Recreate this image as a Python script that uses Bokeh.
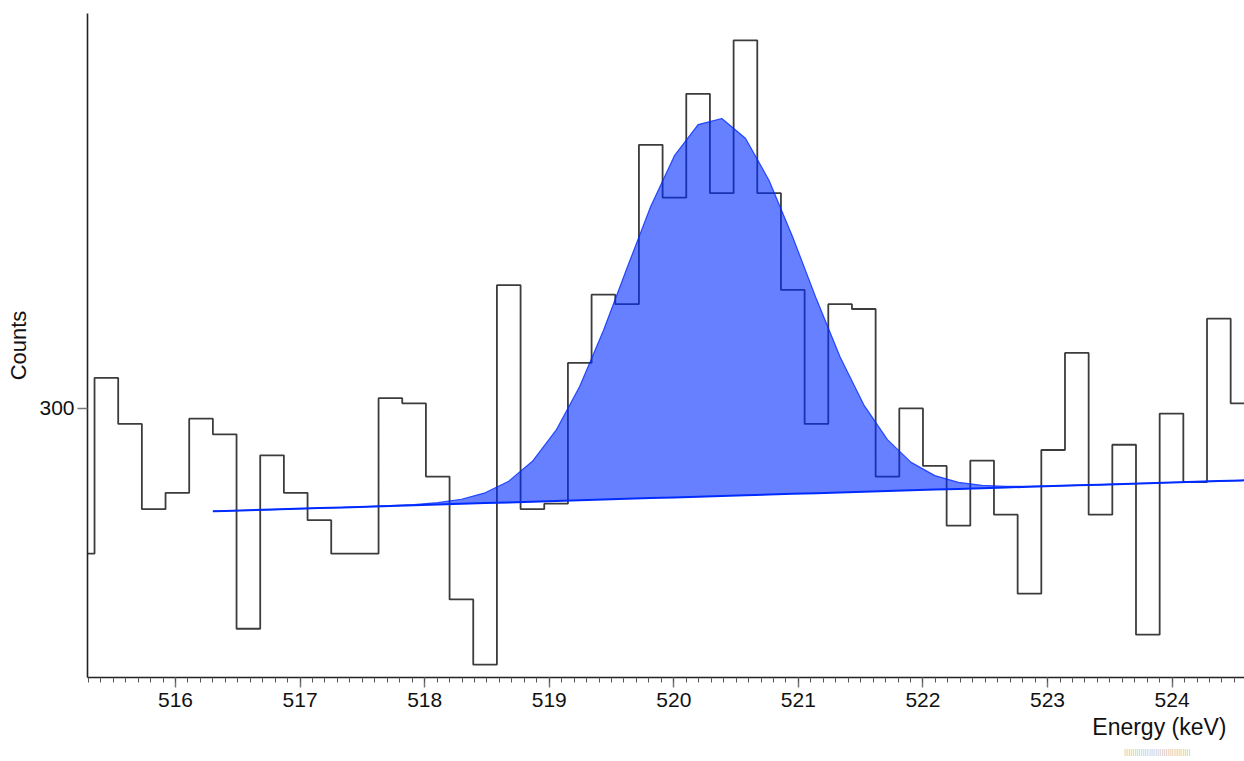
import numpy as np
from bokeh.plotting import figure
from bokeh.models import (Range1d, FixedTicker, SingleIntervalTicker, Title,
                          PrintfTickFormatter)
from bokeh.embed import file_html
from bokeh.resources import INLINE

# ---- spectrum data (bin lower edges in keV, counts per bin) ----
bin_lower_kev = [515.16, 515.35, 515.54, 515.73, 515.92, 516.11, 516.30, 516.49, 516.68, 516.87,
                 517.06, 517.25, 517.44, 517.63, 517.82, 518.01, 518.20, 518.39, 518.58, 518.77,
                 518.96, 519.15, 519.34, 519.53, 519.72, 519.91, 520.10, 520.29, 520.48, 520.67,
                 520.86, 521.05, 521.24, 521.43, 521.62, 521.81, 522.00, 522.19, 522.38, 522.57,
                 522.76, 522.95, 523.14, 523.33, 523.52, 523.71, 523.90, 524.09, 524.28, 524.47]
bin_counts = [273, 306, 297, 281, 284, 298, 295, 260, 291, 284,
              279, 273, 273, 302, 301, 287, 265, 254, 325, 281,
              282, 309, 323, 321, 356, 344, 368, 345, 381, 345,
              324, 297, 321, 320, 287, 300, 289, 278, 290, 280,
              266, 292, 311, 280, 293, 259, 299, 286, 318, 301]
bin_width_kev = 0.19

# ---- fitted peak ----
roi_lower_kev = 516.30
roi_upper_kev = 524.66
peak_mean_kev = 520.33
peak_fwhm_kev = 1.59
peak_amplitude = 79.0
continuum_at_roi_lower = 280.6
continuum_slope_per_kev = 0.689

y_major_ticks = [300]

FONT = "Liberation Sans"

p = figure(width=1244, height=761, output_backend="svg", toolbar_location=None,
           y_axis_type="log",
           x_range=Range1d(515.2936, 524.581), y_range=Range1d(251.9, 387.7),
           min_border_left=87, min_border_right=0, min_border_top=13, min_border_bottom=84)
p.outline_line_color = None
p.xgrid.visible = False
p.ygrid.visible = False
p.background_fill_color = "white"
p.border_fill_color = "white"

# histogram as step line
xs = list(bin_lower_kev) + [bin_lower_kev[-1] + bin_width_kev]
ys = list(bin_counts) + [bin_counts[-1]]
p.step(xs, ys, mode="after", line_color="#3c3c3c", line_width=1.8)

# peak model sampled at ROI bin centres
centers = [e + bin_width_kev / 2 for e in bin_lower_kev if e >= roi_lower_kev - 1e-6]
fx = np.array([roi_lower_kev] + centers + [roi_upper_kev])
sigma = peak_fwhm_kev / 2.3548
cont = continuum_at_roi_lower + continuum_slope_per_kev * (fx - roi_lower_kev)
gauss = peak_amplitude * np.exp(-0.5 * ((fx - peak_mean_kev) / sigma) ** 2)
blue = "#002bff"
p.varea(x=fx, y1=cont, y2=cont + gauss, fill_color=blue, fill_alpha=0.6)
p.line(fx, cont + gauss, line_color=blue, line_width=1.2, line_alpha=0.8)
p.line(fx, cont, line_color=blue, line_width=2)

# axes
xa = p.xaxis[0]
xa.ticker = SingleIntervalTicker(interval=1, num_minor_ticks=10)
xa.axis_line_color = "#222222"
xa.axis_line_width = 1.6
xa.major_tick_out = 10
xa.major_tick_in = 0
xa.minor_tick_out = 5
xa.minor_tick_in = 0
xa.major_tick_line_color = "#777777"
xa.major_tick_line_width = 1.5
xa.minor_tick_line_color = "#555555"
xa.major_label_text_font = FONT
xa.major_label_text_font_size = "21px"
xa.major_label_text_color = "#111111"
xa.major_label_standoff = 5

ya = p.yaxis[0]
ya.ticker = FixedTicker(ticks=y_major_ticks, minor_ticks=[])
ya.formatter = PrintfTickFormatter(format="%d")
ya.axis_line_color = "#222222"
ya.axis_line_width = 1.6
ya.major_tick_out = 10
ya.major_tick_in = 0
ya.major_tick_line_color = "#777777"
ya.major_tick_line_width = 1.5
ya.major_label_text_font = FONT
ya.major_label_text_font_size = "21px"
ya.major_label_text_color = "#111111"
ya.major_label_standoff = 3
ya.axis_label = "Counts"
ya.axis_label_text_font = FONT
ya.axis_label_text_font_size = "22px"
ya.axis_label_text_font_style = "normal"
ya.axis_label_text_color = "#111111"
ya.axis_label_standoff = 5

# x-axis title, right-aligned under the axis
p.add_layout(Title(text="Energy (keV)", align="right", offset=18, standoff=4,
                   text_font=FONT, text_font_size="23px", text_font_style="normal",
                   text_color="#111111"), "below")
# small resize grip at the very bottom
p.add_layout(Title(text="|" * 32, align="right", offset=54, standoff=6,
                   text_font=FONT, text_font_size="8px", text_font_style="normal",
                   text_color="#c9bcae"), "below")

open("out.html", "w").write(file_html(p, INLINE))
